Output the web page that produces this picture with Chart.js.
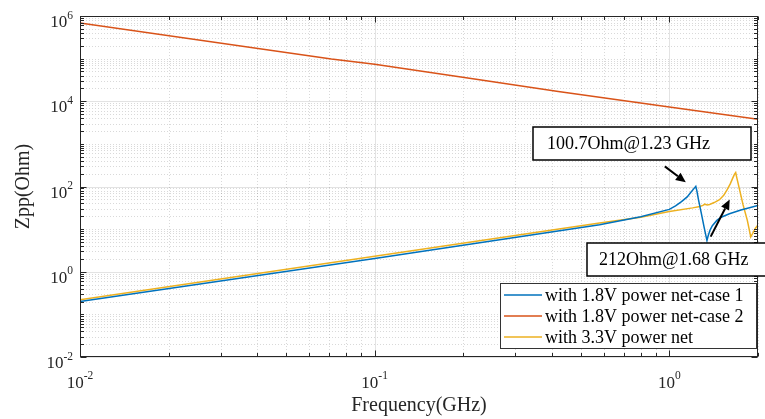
<!DOCTYPE html>
<html>
<head>
<meta charset="utf-8">
<script src="https://cdn.jsdelivr.net/npm/chart.js@4.4.0/dist/chart.umd.min.js"></script>
<style>
  html, body { margin: 0; padding: 0; background: #fff; }
  #wrap { position: relative; width: 765px; height: 419px; }
</style>
</head>
<body>
<div id="wrap"><canvas id="zppChart"></canvas></div>
<script>
// frequency in GHz, Zpp in Ohm
const freqCase1 = [0.01, 0.1, 0.58, 0.8, 1.0, 1.05, 1.1, 1.15, 1.18, 1.21, 1.23, 1.24, 1.257, 1.285, 1.313, 1.342, 1.355, 1.375, 1.4, 1.45, 1.5, 1.6, 1.75, 2.0];
const zppCase1  = [0.2, 2.05, 12.6, 19.5, 29, 35, 44, 57, 71, 88, 100.7, 80, 48, 23, 11, 5.4, 7, 9.5, 12, 16, 19, 23, 28, 36];

const freqCase2 = [0.01, 0.0713, 0.1, 0.227, 0.42, 1.0, 2.0];
const zppCase2  = [6.9e5, 9.8e4, 7.4e4, 3.2e4, 1.7e4, 7.3e3, 3.8e3];

const freq33 = [0.01, 0.1, 0.58, 0.8, 1.0, 1.2, 1.27, 1.3, 1.32, 1.345, 1.37, 1.42, 1.48, 1.53, 1.57, 1.61, 1.64, 1.665, 1.68, 1.695, 1.73, 1.78, 1.84, 1.89, 1.92, 1.96, 2.0];
const zpp33  = [0.22, 2.3, 14, 19, 26, 31.5, 34, 36, 38.5, 37, 38, 42, 49, 62, 83, 115, 155, 195, 212, 160, 87, 37, 16, 6.6, 8, 10.5, 12.5];

const seriesNames = ['with 1.8V power net-case 1', 'with 1.8V power net-case 2', 'with 3.3V power net'];
const seriesColors = ['#0072BD', '#D95319', '#EDB120'];

const xMajorTicks = [0.01, 0.1, 1];
const yMajorTicks = [1e-2, 1, 1e2, 1e4, 1e6];
const xRange = [0.01, 2];
const yRange = [1e-2, 1e6];

const serif = '"Liberation Serif", "Times New Roman", serif';

// every 1..9 x 10^n inside the range that is not a labelled tick
function minorTicks(lo, hi, majors) {
  const out = [];
  for (let e = Math.floor(Math.log10(lo)); e <= Math.ceil(Math.log10(hi)); e++) {
    for (let m = 1; m <= 9; m++) {
      const v = m * Math.pow(10, e);
      if (v < lo * 0.999 || v > hi * 1.001) continue;
      if (majors.some(t => Math.abs(Math.log10(t) - Math.log10(v)) < 1e-6)) continue;
      out.push(v);
    }
  }
  return out;
}
const xMinorTicks = minorTicks(xRange[0], xRange[1], xMajorTicks);
const yMinorTicks = minorTicks(yRange[0], yRange[1], yMajorTicks);

const toPoints = (fs, zs) => fs.map((f, i) => ({ x: f, y: zs[i] }));

// text boxes with arrows, placed relative to the peak they point at
const callouts = [
  { text: '100.7Ohm@1.23 GHz', f: 1.23, z: 100.7, box: [533, 127, 218, 33], textAt: [547, 149],
    tail: [-31, -20], head: [-10, -4] },
  { text: '212Ohm@1.68 GHz', f: 1.68, z: 212, box: [587, 243, 190, 33], textAt: [599, 265],
    tail: [-25, 64], head: [-6, 27] }
];

function line(ctx, x1, y1, x2, y2) {
  ctx.beginPath(); ctx.moveTo(x1, y1); ctx.lineTo(x2, y2); ctx.stroke();
}

function powerLabel(ctx, exp, x, y, align) {
  // "10" with a raised exponent
  const base = '10', sup = String(exp);
  ctx.font = '17px ' + serif;
  const wb = ctx.measureText(base).width;
  ctx.font = '11.5px ' + serif;
  const ws = ctx.measureText(sup).width;
  let left = align === 'right' ? x - wb - ws : x - (wb + ws) / 2;
  ctx.textAlign = 'left';
  ctx.textBaseline = 'alphabetic';
  ctx.font = '17px ' + serif;
  ctx.fillText(base, left, y);
  ctx.font = '11.5px ' + serif;
  ctx.fillText(sup, left + wb, y - 8.5);
}

const matlabAxes = {
  id: 'matlabAxes',
  beforeDatasetsDraw(chart) {
    const { ctx, chartArea: a, scales: { x, y } } = chart;
    ctx.save();
    ctx.lineWidth = 1;
    ctx.setLineDash([1, 2]);
    ctx.strokeStyle = 'rgba(0,0,0,0.15)';
    xMinorTicks.forEach(v => { const p = Math.round(x.getPixelForValue(v)) + 0.5; line(ctx, p, a.top, p, a.bottom); });
    yMinorTicks.forEach(v => { const p = Math.round(y.getPixelForValue(v)) + 0.5; line(ctx, a.left, p, a.right, p); });
    ctx.setLineDash([]);
    ctx.strokeStyle = 'rgba(0,0,0,0.11)';
    xMajorTicks.forEach(v => { const p = Math.round(x.getPixelForValue(v)) + 0.5; line(ctx, p, a.top, p, a.bottom); });
    yMajorTicks.forEach(v => { const p = Math.round(y.getPixelForValue(v)) + 0.5; line(ctx, a.left, p, a.right, p); });
    ctx.restore();
  },
  afterDatasetsDraw(chart) {
    const { ctx, chartArea: a, scales: { x, y } } = chart;
    const L = Math.round(a.left) + 0.5, R = Math.round(a.right) - 0.5;
    const T = Math.round(a.top) + 0.5, B = Math.round(a.bottom) - 0.5;
    ctx.save();

    // box and inward ticks on all four sides
    ctx.strokeStyle = '#262626';
    ctx.lineWidth = 1;
    ctx.strokeRect(L, T, R - L, B - T);
    const tickSet = (vals, len) => vals.forEach(v => {
      const p = Math.round(x.getPixelForValue(v)) + 0.5;
      line(ctx, p, B, p, B - len); line(ctx, p, T, p, T + len);
    });
    const tickSetY = (vals, len) => vals.forEach(v => {
      const p = Math.round(y.getPixelForValue(v)) + 0.5;
      line(ctx, L, p, L + len, p); line(ctx, R, p, R - len, p);
    });
    tickSet(xMajorTicks, 6); tickSet(xMinorTicks, 3.5);
    tickSetY(yMajorTicks, 6); tickSetY(yMinorTicks, 3.5);

    // tick labels
    ctx.fillStyle = '#262626';
    xMajorTicks.forEach(v => powerLabel(ctx, Math.round(Math.log10(v)), x.getPixelForValue(v), 387.5, 'center'));
    yMajorTicks.forEach(v => powerLabel(ctx, Math.round(Math.log10(v)), 73, y.getPixelForValue(v) + 11, 'right'));

    // axis titles
    ctx.font = '20px ' + serif;
    ctx.textAlign = 'center';
    ctx.textBaseline = 'alphabetic';
    ctx.fillText('Frequency(GHz)', (a.left + a.right) / 2, 411);
    ctx.save();
    ctx.translate(29, (a.top + a.bottom) / 2);
    ctx.rotate(-Math.PI / 2);
    ctx.fillText('Zpp(Ohm)', 0, 0);
    ctx.restore();

    // legend
    ctx.fillStyle = '#fff';
    ctx.fillRect(500, 283, 257, 66);
    ctx.strokeStyle = '#333';
    ctx.strokeRect(500.5, 283.5, 256, 65);
    ctx.font = '18px ' + serif;
    ctx.textAlign = 'left';
    ctx.textBaseline = 'middle';
    chart.data.datasets.forEach((ds, i) => {
      const yy = 295 + i * 21;
      ctx.strokeStyle = ds.borderColor;
      ctx.lineWidth = 1.5;
      line(ctx, 504, yy, 542, yy);
      ctx.fillStyle = '#000';
      ctx.fillText(ds.label, 545, yy + 1);
    });

    // callouts
    callouts.forEach(c => {
      const px = x.getPixelForValue(c.f), py = y.getPixelForValue(c.z);
      ctx.fillStyle = '#fff';
      ctx.fillRect(c.box[0], c.box[1], c.box[2], c.box[3]);
      ctx.strokeStyle = '#000';
      ctx.lineWidth = 1.5;
      ctx.strokeRect(c.box[0], c.box[1], c.box[2], c.box[3]);
      ctx.fillStyle = '#000';
      ctx.font = '18px ' + serif;
      ctx.textBaseline = 'alphabetic';
      ctx.fillText(c.text, c.textAt[0], c.textAt[1]);

      const x1 = px + c.tail[0], y1 = py + c.tail[1];
      const x2 = px + c.head[0], y2 = py + c.head[1];
      const ang = Math.atan2(y2 - y1, x2 - x1);
      const hl = 10, hw = 4.5;
      const bx = x2 - hl * Math.cos(ang), by = y2 - hl * Math.sin(ang);
      ctx.lineWidth = 2;
      line(ctx, x1, y1, bx, by);
      ctx.beginPath();
      ctx.moveTo(x2, y2);
      ctx.lineTo(bx + hw * Math.sin(ang), by - hw * Math.cos(ang));
      ctx.lineTo(bx - hw * Math.sin(ang), by + hw * Math.cos(ang));
      ctx.closePath();
      ctx.fill();
    });

    ctx.restore();
  }
};

const config = {
  type: 'line',
  data: {
    datasets: [
      { label: seriesNames[0], data: toPoints(freqCase1, zppCase1), borderColor: seriesColors[0] },
      { label: seriesNames[1], data: toPoints(freqCase2, zppCase2), borderColor: seriesColors[1] },
      { label: seriesNames[2], data: toPoints(freq33, zpp33), borderColor: seriesColors[2] }
    ]
  },
  options: {
    responsive: true,
    maintainAspectRatio: false,
    animation: false,
    layout: { padding: { left: 80, top: 16, right: 7, bottom: 62 } },
    elements: {
      line: { borderWidth: 1.5, tension: 0, fill: false },
      point: { radius: 0, hoverRadius: 0 }
    },
    scales: {
      x: { type: 'logarithmic', min: xRange[0], max: xRange[1], display: false },
      y: { type: 'logarithmic', min: yRange[0], max: yRange[1], display: false }
    },
    plugins: {
      legend: { display: false },
      tooltip: { enabled: false }
    }
  },
  plugins: [matlabAxes]
};

const ctx = document.getElementById('zppChart').getContext('2d');
const zppChart = new Chart(ctx, config);
</script>
</body>
</html>
